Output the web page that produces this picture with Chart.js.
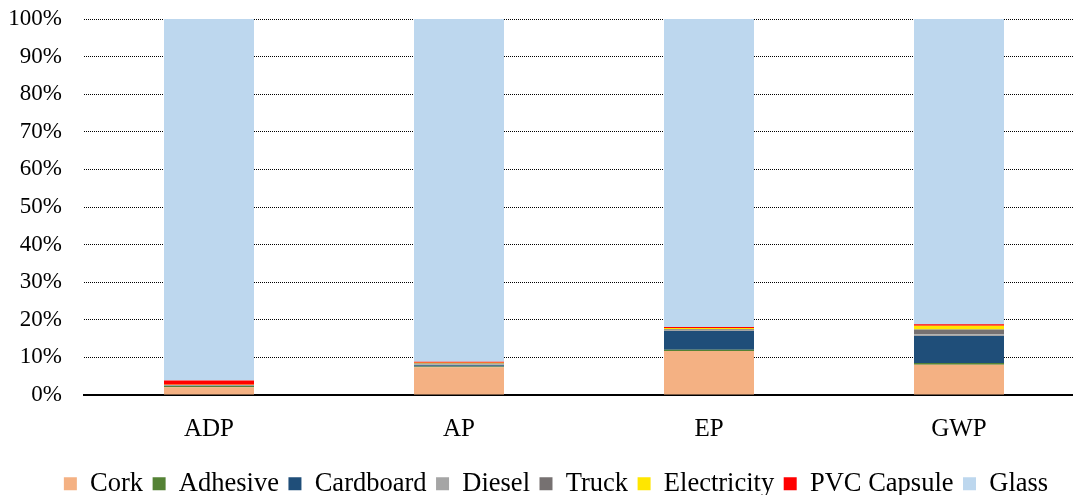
<!DOCTYPE html>
<html>
<head>
<meta charset="utf-8">
<script src="https://cdn.jsdelivr.net/npm/chart.js@4.4.1/dist/chart.umd.min.js"></script>
<style>
  html, body { margin: 0; padding: 0; background: #fff; overflow: hidden; }
  #wrap { position: relative; width: 1112px; height: 495px; }
</style>
</head>
<body>
<div id="wrap"><canvas id="c"></canvas></div>
<script>
// Impact categories and per-stage contributions (% of total impact)
const categories = ['ADP', 'AP', 'EP', 'GWP'];
const cork        = [2.08, 7.40, 11.70, 8.05];
const adhesive    = [0.30, 0.20, 0.35, 0.45];
const cardboard   = [0.10, 0.30, 4.95, 7.20];
const diesel      = [0.10, 0.30, 0.30, 0.45];
const truck       = [0.05, 0.20, 0.20, 1.30];
const electricity = [0.10, 0.20, 0.35, 1.00];
const pvcCapsule  = [1.15, 0.25, 0.25, 0.35];
const glass       = [96.12, 91.15, 81.90, 81.20];
const yTicks = [0, 10, 20, 30, 40, 50, 60, 70, 80, 90, 100];

const serif = '"Liberation Serif", "Times New Roman", serif';

const series = [
  { label: 'Cork',        data: cork,        color: '#F4B183' },
  { label: 'Adhesive',    data: adhesive,    color: '#548235' },
  { label: 'Cardboard',   data: cardboard,   color: '#1F4E79' },
  { label: 'Diesel',      data: diesel,      color: '#A5A5A5' },
  { label: 'Truck',       data: truck,       color: '#767171' },
  { label: 'Electricity', data: electricity, color: '#FFE600' },
  { label: 'PVC Capsule', data: pvcCapsule,  color: '#FF0000' },
  { label: 'Glass',       data: glass,       color: '#BDD7EE' }
];

new Chart(document.getElementById('c'), {
  type: 'bar',
  data: {
    labels: categories,
    datasets: series.map(s => ({
      label: s.label,
      data: s.data,
      backgroundColor: s.color,
      borderWidth: 0,
      categoryPercentage: 1,
      barPercentage: 0.36
    }))
  },
  options: {
    responsive: true,
    maintainAspectRatio: false,
    animation: false,
    layout: { padding: { top: 19, right: 8, left: 8, bottom: -12 } },
    plugins: {
      tooltip: { enabled: false },
      legend: {
        position: 'bottom',
        labels: {
          color: '#000',
          font: { family: serif, size: 26.5 },
          boxWidth: 13,
          boxHeight: 13,
          padding: 9.5
        }
      }
    },
    scales: {
      x: {
        stacked: true,
        grid: { display: false },
        border: { display: true, color: '#000', width: 2 },
        ticks: { color: '#000', font: { family: serif, size: 25 }, padding: 11.5 },
        afterFit: axis => { axis.height = 66; }
      },
      y: {
        stacked: true,
        min: 0,
        max: 100,
        afterBuildTicks: axis => { axis.ticks = yTicks.map(v => ({ value: v })); },
        afterFit: axis => {
          axis.width = 76;
          axis.paddingTop = 0;
          axis.paddingBottom = 0;
        },
        border: { display: false, dash: [1, 1] },
        grid: {
          color: ctx => (ctx.tick && ctx.tick.value === 0) ? 'rgba(0,0,0,0)' : '#000',
          lineWidth: 1,
          drawTicks: false
        },
        ticks: {
          color: '#000',
          font: { family: serif, size: 23 },
          padding: 22,
          callback: v => v + '%'
        }
      },
      // empty right-hand margin strip beside the plot area
      yRight: {
        position: 'right',
        display: true,
        min: 0,
        max: 100,
        grid: { display: false },
        border: { display: false },
        ticks: { display: false },
        afterFit: axis => {
          axis.width = 20;
          axis.paddingTop = 0;
          axis.paddingBottom = 0;
        }
      }
    }
  }
});
</script>
</body>
</html>
